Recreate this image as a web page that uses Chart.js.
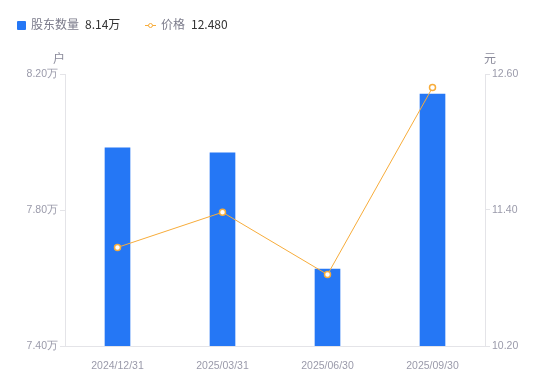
<!DOCTYPE html>
<html>
<head>
<meta charset="utf-8">
<script src="https://cdn.jsdelivr.net/npm/chart.js@4/dist/chart.umd.min.js"></script>
<style>
  body{margin:0;background:#fff;font-family:"Noto Sans CJK SC","Liberation Sans",sans-serif;}
  #wrap{position:relative;width:550px;height:381px;}
  #chart{position:absolute;left:0;top:0;}
  .legend{position:absolute;top:15px;font-size:12px;line-height:18px;white-space:nowrap;}
  .legend .lab{color:#7b7b8b;}
  .legend .val{color:#333;margin-left:6px;}
  .sq{display:inline-block;width:9px;height:9px;background:#2577f5;border-radius:1px;vertical-align:-1px;margin-right:5px;}
  .ln{display:inline-block;position:relative;width:11px;height:9px;margin-right:5px;vertical-align:-1px;}
  .ln:before{content:'';position:absolute;left:0;right:0;top:4px;height:1px;background:#f7ac3a;}
  .ln:after{content:'';position:absolute;left:2.5px;top:1.5px;width:3px;height:3px;border:1.5px solid #f7ac3a;border-radius:50%;background:#fff;}
</style>
</head>
<body>
<div id="wrap">
  <canvas id="chart" width="550" height="381"></canvas>
  <div class="legend" style="left:17px"><span class="sq"></span><span class="lab">股东数量</span><span class="val" id="v1"></span></div>
  <div class="legend" style="left:145px"><span class="ln"></span><span class="lab">价格</span><span class="val" id="v2"></span></div>
</div>
<script>
// data
const dates = ['2024/12/31','2025/03/31','2025/06/30','2025/09/30'];
const holders = [7.983, 7.968, 7.626, 8.141];   // 万户
const prices = [11.07, 11.38, 10.83, 12.48];     // 元
const leftTicks = [7.40, 7.80, 8.20];
const rightTicks = [10.20, 11.40, 12.60];

const BLUE = '#2577f5', ORANGE = '#f7ac3a', GRAY = '#9a9aaa', AXIS = '#e4e4e8';

document.getElementById('v1').textContent = holders[holders.length-1].toFixed(2)+'万';
document.getElementById('v2').textContent = prices[prices.length-1].toFixed(3);

// unit labels above the y axes
const unitLabels = {
  id:'unitLabels',
  afterDraw(chart){
    const {ctx, chartArea:a} = chart;
    ctx.save();
    ctx.font = '12px "Noto Sans CJK SC", sans-serif';
    ctx.fillStyle = '#8a8a9a';
    ctx.textAlign = 'center';
    ctx.textBaseline = 'middle';
    ctx.fillText('户', a.left-6, a.top-16);
    ctx.fillText('元', a.right+5, a.top-16);
    ctx.restore();
  }
};

const tickFont = {family:'"Liberation Sans", Arial, sans-serif', size:10.5};

new Chart(document.getElementById('chart'), {
  data:{
    labels:dates,
    datasets:[
      {type:'line', label:'价格', data:prices, yAxisID:'y1', order:0,
       borderColor:ORANGE, borderWidth:1, pointRadius:3, pointHoverRadius:3,
       pointBackgroundColor:'#fff', pointBorderColor:ORANGE, pointBorderWidth:1.5, tension:0},
      {type:'bar', label:'股东数量', data:holders, yAxisID:'y', order:1,
       backgroundColor:BLUE, barThickness:25}
    ]
  },
  plugins:[unitLabels],
  options:{
    responsive:false,
    animation:false,
    layout:{padding:{top:74, left:0, right:0, bottom:0}},
    plugins:{legend:{display:false}, tooltip:{enabled:false}},
    scales:{
      x:{
        offset:true,
        grid:{display:false},
        border:{display:true, color:AXIS},
        ticks:{color:GRAY, font:tickFont, padding:6, maxRotation:0},
        afterFit:s=>{s.height = 35;}
      },
      y:{
        position:'left', min:leftTicks[0], max:leftTicks[leftTicks.length-1],
        afterBuildTicks:s=>{s.ticks = leftTicks.map(v=>({value:v}));},
        grid:{drawOnChartArea:false, drawTicks:true, tickLength:5, color:AXIS},
        border:{display:true, color:AXIS},
        ticks:{color:GRAY, font:tickFont, padding:2, callback:v=>v.toFixed(2)+'万'},
        afterFit:s=>{s.width = 65;}
      },
      y1:{
        position:'right', min:rightTicks[0], max:rightTicks[rightTicks.length-1],
        afterBuildTicks:s=>{s.ticks = rightTicks.map(v=>({value:v}));},
        grid:{drawOnChartArea:false, drawTicks:true, tickLength:5, color:AXIS},
        border:{display:true, color:AXIS},
        ticks:{color:GRAY, font:tickFont, padding:2, callback:v=>v.toFixed(2)},
        afterFit:s=>{s.width = 65;}
      }
    }
  }
});
</script>
</body>
</html>
